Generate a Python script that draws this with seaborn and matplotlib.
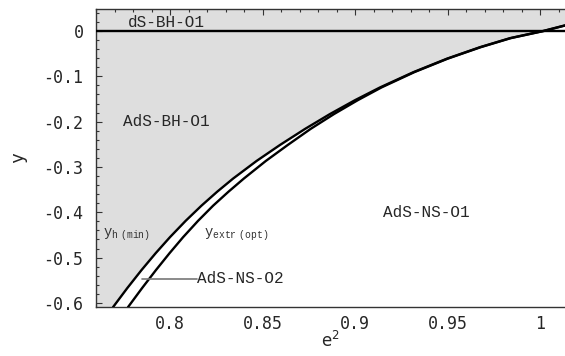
import matplotlib
matplotlib.use("Agg")
import matplotlib.pyplot as plt
import seaborn as sns
import pandas as pd
from matplotlib.ticker import MultipleLocator

# Curves: y_h(min) (upper) and y_extr(opt) (lower)
e2_h = [0.7692, 0.7769, 0.7846, 0.7923, 0.8000, 0.8085, 0.8170, 0.8255, 0.8341, 0.8468,
        0.8595, 0.8730, 0.8865, 0.9000, 0.9135, 0.9316, 0.9497, 0.9676, 0.9838, 1.0016, 1.0135]
y_h = [-0.6093, -0.5673, -0.5275, -0.4900, -0.4548, -0.4187, -0.3854, -0.3546, -0.3256, -0.2867,
       -0.2513, -0.2160, -0.1831, -0.1526, -0.1245, -0.0907, -0.0610, -0.0356, -0.0157, 0.0, 0.0125]

e2_extr = [0.7773, 0.7849, 0.7924, 0.7998, 0.8071, 0.8152, 0.8233, 0.8316, 0.8399, 0.8518,
           0.8637, 0.8760, 0.8887, 0.9015, 0.9143, 0.9321, 0.9501, 0.9680, 0.9842, 1.0020, 1.0135]
y_extr = [-0.6093, -0.5673, -0.5275, -0.4900, -0.4548, -0.4187, -0.3854, -0.3546, -0.3256, -0.2867,
          -0.2513, -0.2160, -0.1831, -0.1526, -0.1245, -0.0907, -0.0610, -0.0356, -0.0157, 0.0, 0.0121]

x_ticks = [0.8, 0.85, 0.9, 0.95, 1.0]
x_ticklabels = ["0.8", "0.85", "0.9", "0.95", "1"]
y_ticks = [0, -0.1, -0.2, -0.3, -0.4, -0.5, -0.6]
y_ticklabels = ["0", "-0.1", "-0.2", "-0.3", "-0.4", "-0.5", "-0.6"]

xmin, xmax = 0.76, 1.0135
ymin, ymax = -0.609, 0.0486

sns.set_theme(style="ticks")
plt.rcParams["mathtext.fontset"] = "custom"
plt.rcParams["mathtext.tt"] = "Liberation Mono"
plt.rcParams["mathtext.rm"] = "DejaVu Sans"

fig = plt.figure(figsize=(5.65, 3.56), dpi=100)
ax = fig.add_axes([96 / 565, 49 / 356, 469 / 565, 298 / 356])

# shaded region above the y_h curve
ax.set_facecolor("#dedede")
ax.fill_between(e2_h, y_h, ymin, color="white", zorder=1, lw=0)

df_h = pd.DataFrame({"e2": e2_h, "y": y_h})
df_extr = pd.DataFrame({"e2": e2_extr, "y": y_extr})
for d in [df_h, df_extr]:
    sns.lineplot(data=d, x="e2", y="y", ax=ax, color="black", lw=1.7, sort=False,
                 estimator=None, zorder=3, solid_joinstyle="round")
ax.axhline(0, color="black", lw=1.7, zorder=3)

ax.set_xlim(xmin, xmax)
ax.set_ylim(ymin, ymax)

ax.set_xticks(x_ticks)
ax.set_xticklabels(x_ticklabels, family="DejaVu Sans Mono", fontsize=12)
ax.set_yticks(y_ticks)
ax.set_yticklabels(y_ticklabels, family="DejaVu Sans Mono", fontsize=12)
ax.xaxis.set_minor_locator(MultipleLocator(0.01))
ax.yaxis.set_minor_locator(MultipleLocator(0.02))
ax.tick_params(which="both", direction="in", top=True, right=False, color="#333333", width=0.8)
ax.tick_params(which="major", length=4)
ax.tick_params(which="minor", length=2)
ax.tick_params(axis="y", pad=9)
ax.tick_params(axis="x", pad=6)

for side in ["left", "bottom", "top"]:
    ax.spines[side].set_color("#333333")
    ax.spines[side].set_linewidth(1.0)
ax.spines["right"].set_visible(False)

ax.set_xlabel(r"e$^2$", fontsize=12, labelpad=-2)
ax.set_ylabel("y", family="DejaVu Sans Mono", fontsize=13, labelpad=12)

mono = "Liberation Mono"
ax.text(0.7773, 0.018, "dS-BH-O1", family=mono, fontsize=11.5, va="center", zorder=4)
ax.text(0.7746, -0.20, "AdS-BH-O1", family=mono, fontsize=11.5, va="center", zorder=4)
ax.text(0.9151, -0.40, "AdS-NS-O1", family=mono, fontsize=11.5, va="center", zorder=4)
ax.text(0.8146, -0.547, "AdS-NS-O2", family=mono, fontsize=11.5, va="center", zorder=4)
ax.plot([0.7849, 0.8146], [-0.547, -0.547], color="#777777", lw=1.2, zorder=4)
ax.text(0.7638, -0.45, r"$\mathtt{y}_{\mathtt{h\ (min)}}$", fontsize=10, color="#333333", va="center", zorder=4)
ax.text(0.8184, -0.45, r"$\mathtt{y}_{\mathtt{extr\ (opt)}}$", fontsize=10, color="#333333", va="center", zorder=4)

fig.savefig("out.png", dpi=100)
